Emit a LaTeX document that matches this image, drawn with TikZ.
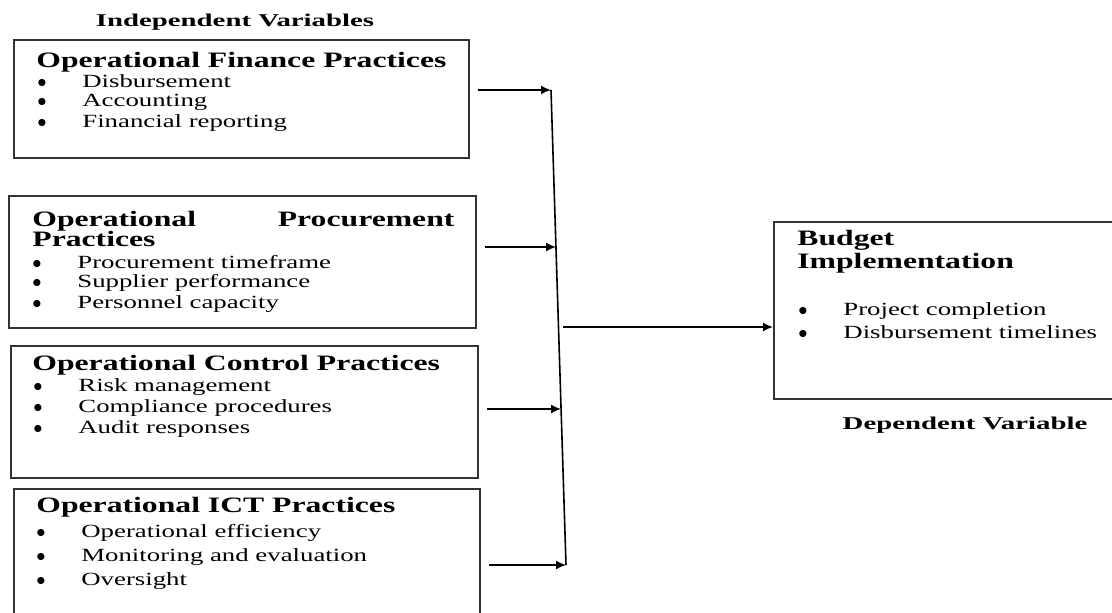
\documentclass[tikz,border=0pt]{standalone}
\usepackage{fontspec}
\setmainfont[FakeStretch=1.44]{Liberation Serif}
\newfontfamily\headfont[FakeStretch=1.6]{Liberation Serif}
\usetikzlibrary{arrows.meta,positioning,calc}
\newcommand{\bul}{\makebox[22.5pt][l]{$\bullet$}}

\begin{document}
\begin{tikzpicture}[x=0.5pt,y=-0.5pt,>={Latex[length=5pt,width=4.5pt]},
  box/.style={draw=black!80,line width=1pt,anchor=north west,inner sep=0pt},
  ttl/.style={anchor=west,inner sep=0pt,align=left,font=\fontsize{11}{10}\selectfont\bfseries},
  itm/.style={anchor=west,inner sep=0pt,font=\fontsize{9.3}{10.5}\selectfont},
  hdr/.style={inner sep=0pt,font=\headfont\fontsize{9}{10}\selectfont\bfseries},
  arr/.style={->,line width=0.8pt}]
\useasboundingbox (0,0) rectangle (1112,613);
\clip (0,0) rectangle (1112,613);

% boxes
\node[box,minimum width=227.5pt,minimum height=59pt] (fin) at (13,39) {};
\node[box,minimum width=233.5pt,minimum height=66pt] (proc) at (8,195) {};
\node[box,minimum width=233.5pt,minimum height=66pt] (ctrl) at (10,345) {};
\node[box,minimum width=233pt,minimum height=80pt] (ict) at (13,488) {};
\node[box,minimum width=200pt,minimum height=88.5pt] (bud) at (773,221) {};

% independent variables
\node[hdr] (indep) at (235,22) {Independent Variables};
\node[ttl] (fint) at (36,62) {Operational Finance Practices};
\foreach \lbl [count=\i] in {Disbursement,Accounting,Financial reporting}
  \node[itm] (fin\i) at (37,60+21*\i) {\bul\lbl};

\node[ttl,text width=211pt] (proct) at (32,229) {Operational\hfill Procurement\\Practices};
\foreach \lbl [count=\i] in {Procurement timeframe,Supplier performance,Personnel capacity}
  \node[itm] (proc\i) at (32,241+21*\i) {\bul\lbl};

\node[ttl] (ctrlt) at (32,365) {Operational Control Practices};
\foreach \lbl [count=\i] in {Risk management,Compliance procedures,Audit responses}
  \node[itm] (ctrl\i) at (33,366+21*\i) {\bul\lbl};

\node[ttl] (ictt) at (36,507) {Operational ICT Practices};
\foreach \lbl [count=\i] in {Operational efficiency,Monitoring and evaluation,Oversight}
  \node[itm] (ict\i) at (36,509+24*\i) {\bul\lbl};

% dependent variable
\node[ttl,font=\fontsize{11}{11.5}\selectfont\bfseries] (budt) at (797,251.5) {Budget\\Implementation};
\foreach \lbl [count=\i] in {Project completion,Disbursement timelines}
  \node[itm] (bud\i) at (798,290+21*\i) {\bul\lbl};
\node[hdr] (dep) at (965,425) {Dependent Variable};

% connectors
\coordinate (jfin) at (551,90);
\coordinate (jproc) at (556,247);
\coordinate (jctrl) at (561,409);
\coordinate (jict) at (566,565);
\coordinate (jmid) at (563,327);
\draw[line width=0.8pt] (jfin) -- (jict);
\foreach \b/\j in {fin/jfin,proc/jproc,ctrl/jctrl,ict/jict}
  \draw[arr,shorten <=4pt] (\b.east |- \j) -- (\j);
\draw[arr] (jmid) -- (jmid -| bud.west);
\end{tikzpicture}
\end{document}
